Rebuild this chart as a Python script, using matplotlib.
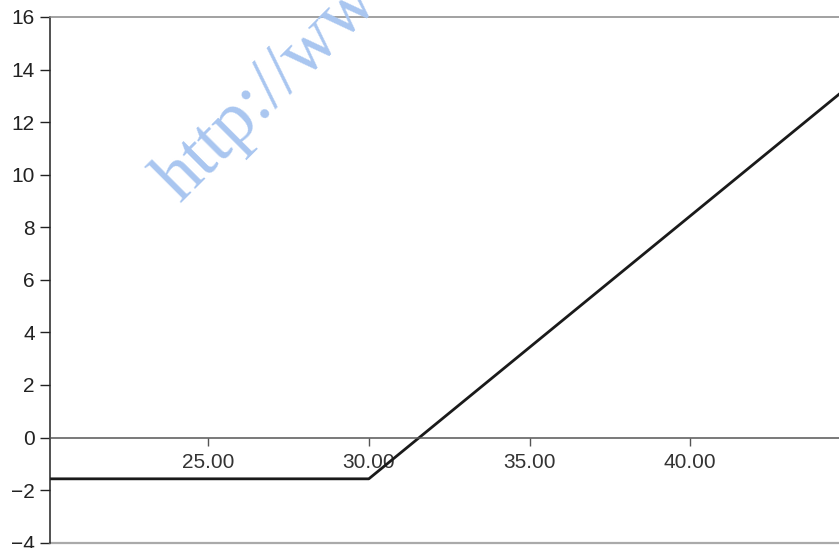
import matplotlib
matplotlib.use("Agg")
import matplotlib.pyplot as plt

# Data: long call payoff (strike 30, premium ~1.57)
price = [20.0, 30.0, 45.0]
profit = [-1.57, -1.57, 13.43]
x_ticks = [25, 30, 35, 40]
x_tick_labels = ["25.00", "30.00", "35.00", "40.00"]
y_ticks = [-4, -2, 0, 2, 4, 6, 8, 10, 12, 14, 16]
watermark = "http://www"

plt.rcParams['font.family'] = ['Liberation Sans', 'DejaVu Sans']

W, H = 839, 548
fig = plt.figure(figsize=(W / 100, H / 100), dpi=100)
ax = fig.add_axes([50 / W, 5.3 / H, 1 - 50 / W, (531 - 5.3) / H])

ax.plot(price, profit, color='#1a1a1a', lw=2.0, solid_capstyle='butt')

ax.set_xlim(20.08, 44.63)
ax.set_ylim(-4, 16)

ax.spines['right'].set_visible(False)
ax.spines['left'].set_color('#222222')
ax.spines['left'].set_linewidth(1.1)
ax.spines['top'].set_color('#888888')
ax.spines['top'].set_linewidth(1.1)
ax.spines['bottom'].set_position(('data', 0))
ax.spines['bottom'].set_color('#555555')
ax.spines['bottom'].set_linewidth(1.1)
ax.axhline(-4, color='#aaaaaa', lw=1.6, clip_on=False)

ax.set_xticks(x_ticks)
ax.set_xticklabels(x_tick_labels)
ax.set_yticks(y_ticks)
ax.tick_params(axis='x', direction='out', length=6, width=1, color='#555555',
               pad=5, labelsize=15, labelcolor='#333333')
ax.tick_params(axis='y', direction='out', length=7, width=1, color='#222222',
               pad=4, labelsize=15, labelcolor='#222222')

fig.text(180 / W, 1 - 204 / H, watermark, rotation=45, rotation_mode='anchor',
         ha='left', va='baseline', fontsize=53, color='#a9c6f0',
         family=['Liberation Serif', 'DejaVu Serif'], zorder=0)

fig.savefig('out.png', dpi=100)
